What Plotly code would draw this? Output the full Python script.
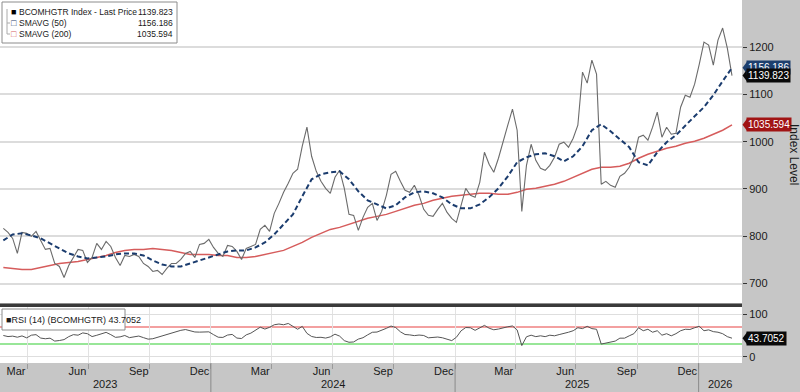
import plotly.graph_objects as go
import pandas as pd

# ---------------- data ----------------
start_date = "2023-02-24"   # first weekly observation

price = [
    816.6, 808.1, 795.4, 763.6, 808.1, 806.0, 799.6, 810.2, 791.1, 772.1,
    774.2, 742.4, 736.1, 712.8, 738.2, 755.1, 772.1, 770.0, 744.5, 755.1,
    784.8, 772.1, 789.0, 778.4, 755.1, 738.2, 759.4, 757.2, 761.5, 757.2,
    742.4, 736.1, 725.5, 727.6, 719.1, 731.8, 742.4, 742.4, 750.9, 763.6,
    767.8, 755.1, 782.7, 784.8, 793.2, 776.3, 763.6, 757.2, 780.5, 778.4,
    767.8, 750.9, 774.2, 778.4, 782.7, 814.4, 822.9, 810.2, 848.3, 869.5,
    892.8, 911.9, 933.1, 941.6, 990.3, 1030.6, 969.1, 937.3, 916.1, 901.3,
    890.7, 924.6, 939.4, 901.3, 846.2, 844.1, 812.3, 839.9, 861.0, 869.5,
    833.5, 852.5, 886.5, 931.0, 937.3, 916.1, 897.1, 892.8, 907.7, 886.5,
    856.8, 844.1, 842.0, 856.8, 869.5, 850.4, 837.8, 829.3, 865.3, 901.3,
    886.5, 882.2, 914.0, 977.6, 952.2, 935.2, 964.9, 1003.0, 1034.8, 1068.7,
    1024.2, 852.5, 950.0, 994.5, 960.6, 943.7, 939.4, 950.0, 967.0, 994.5,
    998.8, 988.3, 1007.2, 1034.8, 1147.1, 1123.8, 1172.5, 1142.8, 909.8, 916.1,
    907.7, 903.4, 926.7, 933.1, 945.8, 967.0, 1009.3, 1013.6, 1003.0, 1030.6,
    1062.3, 1009.3, 1030.6, 1015.7, 1017.8, 1072.9, 1098.3, 1094.1, 1121.6, 1164.0,
    1210.6, 1204.3, 1161.9, 1214.9, 1240.3, 1197.9, 1139.823,
]

# moving averages, read every second week
sma50 = [
    791.1, 803.8, 806.0, 801.7, 795.4, 784.8, 774.2, 763.6, 757.2, 753.0,
    755.1, 757.2, 761.5, 763.6, 763.6, 759.4, 748.8, 740.3, 736.1, 736.1,
    742.4, 748.8, 755.1, 761.5, 767.8, 770.0, 770.0, 776.3, 786.9, 803.8,
    825.0, 846.2, 884.4, 920.4, 931.0, 935.2, 937.3, 920.4, 895.0, 875.9,
    867.4, 858.9, 865.3, 882.2, 892.8, 895.0, 890.7, 882.2, 867.4, 858.9,
    858.9, 867.4, 882.2, 901.3, 926.7, 956.4, 967.0, 973.3, 975.4, 969.1,
    958.5, 969.1, 990.3, 1024.2, 1036.9, 1022.1, 1005.1, 988.3, 956.4, 950.0,
    977.6, 998.8, 1013.6, 1034.8, 1053.8, 1072.9, 1098.3, 1128.0, 1156.186,
]

sma200 = [
    733.9, 731.8, 729.7, 729.7, 733.9, 738.2, 742.4, 744.5, 746.7, 750.9,
    755.1, 759.4, 765.7, 770.0, 772.1, 772.1, 774.2, 772.1, 770.0, 765.7,
    761.5, 761.5, 761.5, 759.4, 759.4, 755.1, 755.1, 757.2, 761.5, 765.7,
    770.0, 778.4, 786.9, 797.5, 806.0, 814.4, 818.7, 825.0, 831.4, 837.8,
    842.0, 846.2, 852.5, 858.9, 865.3, 869.5, 875.9, 880.1, 884.4, 886.5,
    888.6, 890.7, 890.7, 888.6, 888.6, 892.8, 899.2, 901.3, 905.5, 909.8,
    916.1, 924.6, 933.1, 941.6, 945.8, 945.8, 947.9, 954.3, 964.9, 973.3,
    979.7, 986.1, 990.3, 996.6, 1000.9, 1007.2, 1015.7, 1024.2, 1035.594,
]

rsi = [
    50, 47.5, 48.5, 46, 49, 44.5, 50.7, 52, 44, 42.4,
    43.8, 37, 38.3, 40.4, 47.3, 52, 50.7, 56, 54.2, 47.5,
    50.5, 54, 57.3, 52, 45.7, 46.8, 50, 45, 46.3, 48.7,
    45, 41.5, 42.5, 46, 49.3, 52.7, 56, 59.4, 62, 63.8,
    61, 58.2, 57.8, 58.2, 58.5, 52, 46, 45.5, 51, 52.5,
    44, 43, 51.5, 55.5, 62.7, 69.3, 65, 69, 75, 76.7,
    75, 78, 71.3, 64.5, 71.2, 55, 47.7, 45.4, 45.8, 44,
    46.8, 53.1, 48.5, 38, 34.2, 35, 41.6, 44.8, 51.5, 57.5,
    58, 62, 66.7, 72, 68.5, 58.7, 52.3, 51.4, 49.7, 51,
    50, 44.6, 45.3, 46.4, 44.7, 41.3, 38.1, 45.9, 60.9, 68.6,
    68, 62, 67, 73.5, 67, 63.3, 65, 68.2, 70.3, 72.2,
    63, 26.5, 47, 50.7, 47.3, 49.3, 47.3, 50.7, 49.3, 52.1,
    54.2, 57.6, 61.1, 68, 66, 71.4, 66, 64.5, 30, 32,
    34, 37, 43.8, 43.8, 49.3, 54.2, 68, 61.1, 64.5, 57.6,
    61.1, 50.7, 54.2, 49.3, 54.2, 61.1, 64.5, 64, 68, 71.4,
    61.1, 63.1, 59, 57.6, 54.2, 47.3, 43.7052,
]

month_ticks = ["2023-03-15", "2023-06-15", "2023-09-15", "2023-12-15",
               "2024-03-15", "2024-06-15", "2024-09-15", "2024-12-15",
               "2025-03-15", "2025-06-15", "2025-09-15", "2025-12-15"]
month_text = ["Mar", "Jun", "Sep", "Dec"] * 3
years = ["2023", "2024", "2025", "2026"]
x_range = ["2023-02-19", "2026-03-07"]

legend_rows = [("BCOMHGTR Index - Last Price", price[-1]),
               ("SMAVG (50)", sma50[-1]),
               ("SMAVG (200)", sma200[-1])]
rsi_label = "RSI (14) (BCOMHGTR)"

# ---------------- figure ----------------
dates = pd.date_range(start_date, periods=len(price), freq="7D")
dates2 = dates[::2]
assert len(dates2) == len(sma50) == len(sma200)
assert len(rsi) == len(price)

W, H, R = 800, 392, 58
PW = W - R
def px(x):
    return x / PW
def py(y):
    return 1 - y / H

C_PRICE = "#6b6b6b"
C_S50 = "#1b3c6e"
C_S200 = "#d65c5c"
FONT = "Liberation Sans, Arial, sans-serif"
LEG = 8.5

fig = go.Figure()
fig.add_trace(go.Scatter(x=dates2, y=sma200, mode="lines",
                         line=dict(color=C_S200, width=1.5), xaxis="x", yaxis="y"))
fig.add_trace(go.Scatter(x=dates, y=price, mode="lines",
                         line=dict(color=C_PRICE, width=1.1), xaxis="x", yaxis="y"))
fig.add_trace(go.Scatter(x=dates2, y=sma50, mode="lines",
                         line=dict(color=C_S50, width=2, dash="5px,3px"), xaxis="x", yaxis="y"))
fig.add_trace(go.Scatter(x=dates, y=rsi, mode="lines",
                         line=dict(color="#555555", width=1), xaxis="x2", yaxis="y2"))

shapes = []
shapes.append(dict(type="line", xref="paper", yref="y2", x0=0, x1=1, y0=70, y1=70,
                   line=dict(color="#f3a0a0", width=2), layer="below"))
shapes.append(dict(type="line", xref="paper", yref="y2", x0=0, x1=1, y0=30, y1=30,
                   line=dict(color="#98e698", width=2), layer="below"))
shapes.append(dict(type="rect", xref="paper", yref="paper", x0=0, x1=1,
                   y0=py(307), y1=py(303.5), fillcolor="#3a3a3a", line=dict(width=0)))
for yv in ["2024-01-01", "2025-01-01", "2026-01-01"]:
    shapes.append(dict(type="line", xref="x", yref="paper", x0=yv, x1=yv,
                       y0=0, y1=py(363), line=dict(color="#8a8a8a", width=1)))
# legend boxes
BOX_R = 177
shapes.append(dict(type="rect", xref="paper", yref="paper", x0=px(2), x1=px(BOX_R),
                   y0=py(43), y1=py(2), fillcolor="white", line=dict(color="#8c8c8c", width=1)))
shapes.append(dict(type="path", xref="paper", yref="paper",
                   path=(f"M {px(7)},{py(9)} L {px(7)},{py(34)} L {px(10)},{py(34)} "
                         f"M {px(7)},{py(23)} L {px(10)},{py(23)}"),
                   line=dict(color="#aaaaaa", width=1)))
shapes.append(dict(type="rect", xref="paper", yref="paper", x0=px(2), x1=px(125),
                   y0=py(330), y1=py(309), fillcolor="white", line=dict(color="#8c8c8c", width=1)))

annotations = []
row_y = [12, 23, 34]
icons = [("■", "#000000"), ("□", C_S50), ("□", C_S200)]
for (lab, val), yy, (ic, icc) in zip(legend_rows, row_y, icons):
    annotations.append(dict(xref="paper", yref="paper", x=px(9), y=py(yy), text=ic,
                            showarrow=False, xanchor="left", yanchor="middle",
                            font=dict(family=FONT, size=9, color=icc)))
    annotations.append(dict(xref="paper", yref="paper", x=px(17), y=py(yy), text=lab,
                            showarrow=False, xanchor="left", yanchor="middle",
                            font=dict(family=FONT, size=LEG, color="#1a1a1a")))
    annotations.append(dict(xref="paper", yref="paper", x=px(BOX_R - 2), y=py(yy), text=f"{val:.3f}",
                            showarrow=False, xanchor="right", yanchor="middle",
                            font=dict(family=FONT, size=LEG, color="#1a1a1a")))
annotations.append(dict(xref="paper", yref="paper", x=px(4), y=py(319.5),
                        text=f"■{rsi_label} {rsi[-1]:.4f}", showarrow=False,
                        xanchor="left", yanchor="middle",
                        font=dict(family=FONT, size=9, color="#1a1a1a")))

def tag(val, yref, bg, unit_px, fmt):
    dy = 6 / unit_px
    shapes.append(dict(type="path", xref="paper", yref=yref,
                       path=f"M {px(PW+0.5)},{val} L {px(PW+5)},{val+dy} L {px(PW+5)},{val-dy} Z",
                       fillcolor=bg, line=dict(width=0)))
    annotations.append(dict(xref="paper", yref=yref, x=px(PW+4), y=val, text=fmt.format(val),
                            showarrow=False, xanchor="left", yanchor="middle",
                            bgcolor=bg, borderpad=1,
                            font=dict(family=FONT, size=10, color="white")))

tag(sma50[-1], "y", "#1d3f6e", 0.472, "{:.3f}")
tag(price[-1], "y", "#0a0a0a", 0.472, "{:.3f}")
tag(sma200[-1], "y", "#a11414", 0.472, "{:.3f}")
tag(rsi[-1], "y2", "#0a0a0a", 0.43, "{:.4f}")

annotations.append(dict(xref="paper", yref="paper", x=px(794), y=py(155), text="Index Level",
                        textangle=90, showarrow=False, xanchor="center", yanchor="middle",
                        font=dict(family=FONT, size=12, color="#1a1a1a")))

x0, x1 = pd.Timestamp(x_range[0]), pd.Timestamp(x_range[1])
for yr in years:
    a = max(pd.Timestamp(f"{yr}-01-01"), x0)
    b = min(pd.Timestamp(f"{int(yr)+1}-01-01"), x1)
    mid = a + (b - a) / 2
    annotations.append(dict(xref="x", yref="paper", x=mid, y=py(384), text=yr,
                            showarrow=False, xanchor="center", yanchor="middle",
                            font=dict(family=FONT, size=11, color="#1a1a1a")))

fig.update_layout(
    width=W, height=H,
    margin=dict(l=0, r=R, t=0, b=0),
    paper_bgcolor="#c6c6c6",
    plot_bgcolor="white",
    showlegend=False,
    shapes=shapes,
    annotations=annotations,
    xaxis=dict(domain=[0, 1], anchor="y", range=x_range, type="date",
               showticklabels=False, showgrid=False, zeroline=False, ticks=""),
    xaxis2=dict(domain=[0, 1], anchor="y2", range=x_range, type="date", matches="x",
                tickmode="array", tickvals=month_ticks, ticktext=month_text,
                ticks="", showgrid=False, zeroline=False,
                tickfont=dict(family=FONT, size=11, color="#1a1a1a"),
                minor=dict(dtick="M3", tick0="2023-01-01", showgrid=True,
                           gridcolor="#e2e2e2", gridwidth=1,
                           ticks="outside", ticklen=5, tickcolor="#9a9a9a")),
    yaxis=dict(domain=[py(303.5), 1], anchor="x", side="right", range=[657.7, 1299.6],
               tickmode="array", tickvals=[700, 800, 900, 1000, 1100, 1200],
               showgrid=True, gridcolor="#dcdcdc", gridwidth=1.5, zeroline=False,
               ticks="outside", ticklen=4, tickcolor="#333333",
               tickfont=dict(family=FONT, size=11, color="#1a1a1a")),
    yaxis2=dict(domain=[py(363), py(307)], anchor="x2", side="right", range=[-14, 116.3],
                tickmode="array", tickvals=[0, 100],
                showgrid=True, gridcolor="#dedede", gridwidth=1, zeroline=False,
                ticks="outside", ticklen=4, tickcolor="#333333",
                tickfont=dict(family=FONT, size=11, color="#1a1a1a")),
)

fig.write_html("out.html", config={"displayModeBar": False},
               post_script="document.body.style.margin='0px';")
